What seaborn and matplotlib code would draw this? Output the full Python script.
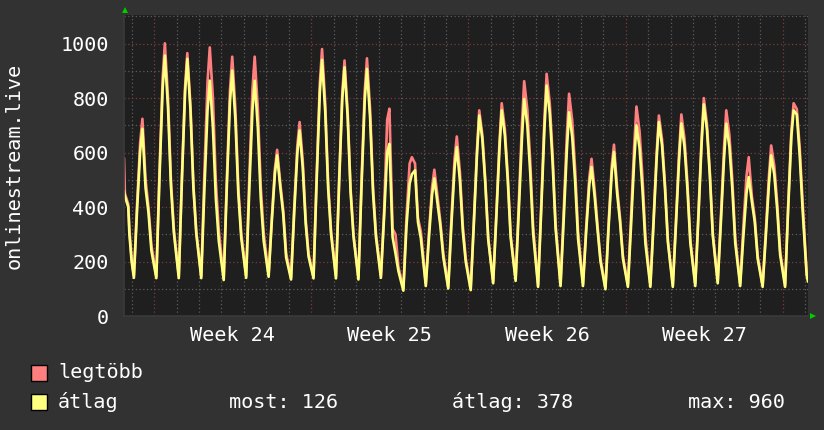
#!/usr/bin/env python3

import pandas as pd
import matplotlib
matplotlib.use("Agg")
from matplotlib import pyplot as plt
from matplotlib.patches import Rectangle
from matplotlib.ticker import MultipleLocator, FixedLocator
from matplotlib.transforms import ScaledTranslation
import seaborn as sns

# time in days; 0 = the Sunday midnight before week 24
day_hours = [0.10, 0.24, 0.38, 0.48, 0.62, 0.75, 0.88]

start_t = [-0.34, -0.30, -0.15, -0.10, 0.0]
start_max = [580, 450, 410, 320, 210]
start_avg = [460, 440, 400, 300, 200]

# one row per day, sampled at day_hours
legtobb = [
    [148, 407, 638, 724, 500, 400, 260],
    [147, 531, 873, 1001, 801, 500, 320],
    [147, 515, 842, 965, 772, 482, 309],
    [147, 525, 860, 986, 800, 493, 316],
    [140, 505, 830, 952, 762, 476, 305],
    [148, 510, 831, 952, 762, 476, 305],
    [152, 358, 541, 610, 488, 390, 230],
    [142, 399, 627, 712, 570, 356, 228],
    [146, 521, 855, 980, 784, 490, 314],
    [146, 502, 819, 938, 750, 469, 300],
    [142, 504, 825, 946, 757, 473, 303],
    [148, 380, 720, 761, 320, 300, 180],
    [101, 364, 560, 583, 560, 360, 310],
    [118, 307, 474, 537, 440, 345, 230],
    [109, 357, 577, 659, 527, 330, 211],
    [103, 351, 612, 755, 664, 498, 287],
    [128, 376, 637, 781, 687, 515, 297],
    [137, 413, 703, 862, 759, 569, 328],
    [115, 409, 719, 889, 782, 587, 338],
    [118, 383, 662, 816, 718, 539, 310],
    [118, 325, 508, 577, 462, 330, 210],
    [106, 341, 551, 629, 470, 360, 220],
    [115, 364, 625, 769, 677, 508, 292],
    [115, 351, 599, 736, 648, 486, 280],
    [115, 353, 603, 740, 651, 488, 281],
    [118, 377, 650, 800, 704, 528, 304],
    [128, 366, 617, 755, 664, 498, 287],
    [118, 327, 513, 583, 440, 360, 220],
    [115, 309, 514, 626, 551, 413, 238],
    [115, 415, 681, 781, 760, 620, 420],
]
atlag = [
    [140, 386, 605, 687, 470, 380, 240],
    [139, 507, 833, 956, 765, 478, 306],
    [139, 501, 823, 944, 755, 472, 302],
    [139, 465, 755, 864, 691, 432, 276],
    [132, 478, 786, 901, 721, 450, 288],
    [140, 466, 755, 864, 691, 432, 276],
    [144, 345, 523, 590, 472, 375, 215],
    [134, 380, 599, 681, 545, 340, 218],
    [138, 499, 820, 940, 752, 470, 301],
    [138, 487, 797, 913, 730, 456, 292],
    [134, 482, 791, 907, 726, 453, 290],
    [140, 360, 600, 632, 290, 230, 165],
    [93, 330, 486, 520, 535, 345, 285],
    [110, 288, 446, 505, 415, 330, 215],
    [101, 335, 542, 620, 496, 310, 198],
    [95, 339, 595, 736, 648, 486, 280],
    [120, 361, 615, 755, 664, 498, 287],
    [129, 383, 650, 797, 701, 526, 303],
    [107, 388, 683, 846, 744, 558, 321],
    [110, 352, 608, 748, 658, 494, 284],
    [110, 307, 481, 547, 438, 315, 200],
    [98, 325, 526, 602, 450, 345, 210],
    [107, 332, 570, 700, 616, 462, 266],
    [107, 337, 579, 712, 627, 470, 271],
    [107, 335, 575, 707, 622, 467, 269],
    [110, 363, 630, 777, 684, 513, 295],
    [120, 343, 577, 706, 621, 466, 268],
    [110, 290, 450, 510, 420, 345, 210],
    [107, 291, 484, 590, 519, 389, 224],
    [107, 400, 660, 755, 740, 590, 390],
]

end_t = [29.99, 30.06, 30.12]
end_max = [260, 160, 134]
end_avg = [245, 150, 126]

week_starts = [1, 8, 15, 22, 29]
week_labels = ["Week 24", "Week 25", "Week 26", "Week 27"]

ylabel = "onlinestream.live"
legend_names = ["legtöbb", "átlag"]
colors = ["#ff7f7f", "#ffff80"]
stats = ["most: 126", "átlag: 378", "max: 960"]

# build long table
rows = []
for t, a, b in zip(start_t, start_max, start_avg):
    rows.append((t, a, b))
for d, (rmax, ravg) in enumerate(zip(legtobb, atlag)):
    for h, a, b in zip(day_hours, rmax, ravg):
        rows.append((d + h, a, b))
for t, a, b in zip(end_t, end_max, end_avg):
    rows.append((t, a, b))
wide = pd.DataFrame(rows, columns=["t"] + legend_names)
df = wide.melt(id_vars="t", var_name="series", value_name="value")

bg = "#323232"
plotbg = "#1f1f1f"
sns.set_style("dark", {"axes.facecolor": plotbg, "figure.facecolor": bg})
plt.rcParams["font.family"] = ["DejaVu Sans Mono", "DejaVu Sans"]

fig = plt.figure(figsize=(8.24, 4.30), dpi=100)
ax = fig.add_axes([124 / 824, 114 / 430, 684 / 824, 301 / 430])

sns.lineplot(data=df, x="t", y="value", hue="series", hue_order=legend_names,
             palette=colors, estimator=None, sort=False, linewidth=1.9,
             legend=False, ax=ax)

ax.set_xlim(-0.34, 30.12)
ax.set_ylim(0, 1105)

ax.yaxis.set_major_locator(MultipleLocator(200))
ax.yaxis.set_minor_locator(MultipleLocator(100))
ax.xaxis.set_major_locator(FixedLocator(week_starts))
ax.xaxis.set_minor_locator(MultipleLocator(1))
ax.set_axisbelow(True)
ax.grid(which="major", color="#7a3c3c", linestyle=(0, (1, 2)), linewidth=0.9)
ax.grid(which="minor", color="#5c5c5c", linestyle=(0, (1, 2)), linewidth=0.9)

ax.tick_params(axis="y", which="both", length=0, pad=11, labelsize=14.5,
               labelcolor="white")
ax.tick_params(axis="x", which="both", length=0, labelbottom=False)
ax.set_xlabel("")
ax.set_ylabel(ylabel, fontsize=14.5, color="white")
ax.yaxis.set_label_coords(-0.147, 0.5)

for s in ["top", "right"]:
    ax.spines[s].set_visible(False)
for s in ["left", "bottom"]:
    ax.spines[s].set_color("#3a3a3a")
    ax.spines[s].set_linewidth(1.2)

# week labels centred in each week
sec = ax.secondary_xaxis("bottom")
sec.set_xticks([(a + b) / 2 for a, b in zip(week_starts[:-1], week_starts[1:])])
sec.set_xticklabels(week_labels)
sec.tick_params(length=0, pad=7, labelsize=14.5, labelcolor="white")
sec.spines["bottom"].set_visible(False)

# green axis arrows
ax.plot([0], [1.0], marker="^", markersize=5, color="#00cc00", linestyle="none",
        markeredgewidth=0, clip_on=False,
        transform=ax.transAxes + ScaledTranslation(0.01, 0.05, fig.dpi_scale_trans))
ax.plot([1.0], [0], marker=">", markersize=5, color="#00cc00", linestyle="none",
        markeredgewidth=0, clip_on=False,
        transform=ax.transAxes + ScaledTranslation(0.05, 0, fig.dpi_scale_trans))

# rrdtool style legend
W, H = 824, 430
for i, (name, c) in enumerate(zip(legend_names, colors)):
    y = 373 + i * 29
    fig.add_artist(Rectangle((31 / W, 1 - (y + 8) / H), 16 / W, 16 / H,
                             facecolor=c, edgecolor="black", linewidth=1,
                             transform=fig.transFigure))
    fig.text(58 / W, 1 - y / H, name, fontsize=14.5, color="white", va="center")
for x, s in zip([229, 452, 688], stats):
    fig.text(x / W, 1 - 402 / H, s, fontsize=14.5, color="white", va="center")

fig.savefig("out.png", dpi=100, facecolor=bg)
